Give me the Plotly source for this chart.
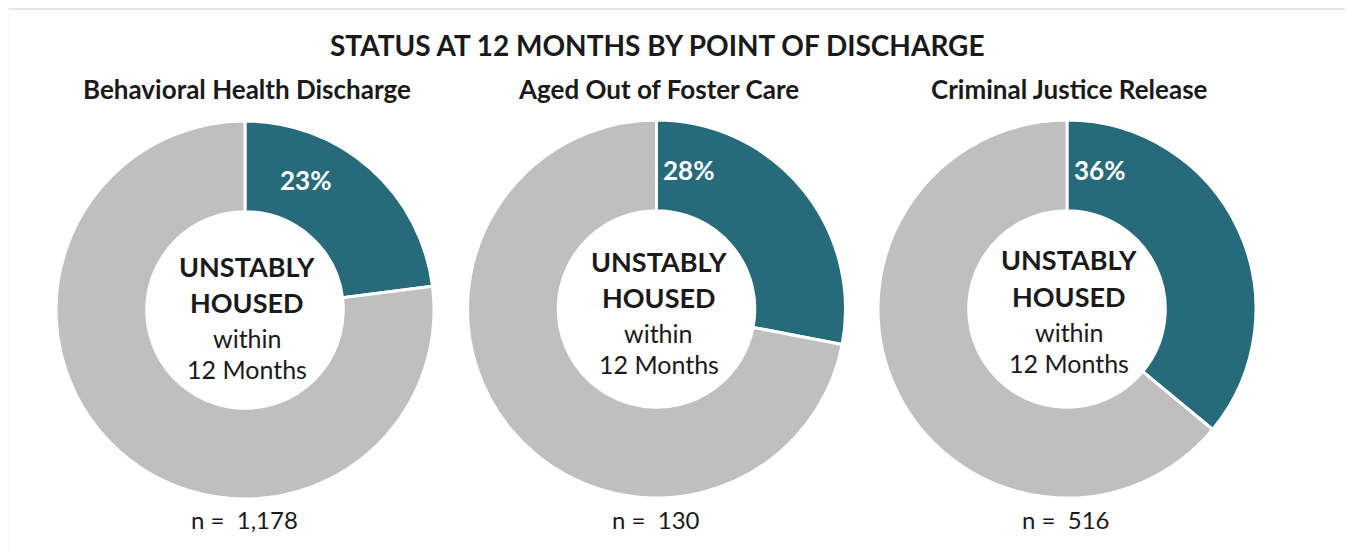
import math
import plotly.graph_objects as go

chart_title = "STATUS AT 12 MONTHS BY POINT OF DISCHARGE"
groups = ["Behavioral Health Discharge", "Aged Out of Foster Care", "Criminal Justice Release"]
segments = ["Unstably housed", "Other"]
unstable_pct = [23, 28, 36]
other_pct = [77, 72, 64]
n_values = ["1,178", "130", "516"]
center_lines = ["UNSTABLY", "HOUSED", "within", "12 Months"]

TEAL = "#276b7a"
GRAY = "#bfbfbf"
FONT = "Lato, Carlito, 'Open Sans', sans-serif"
TXT = "#1a1a1a"

PAGE_W, PAGE_H = 1353, 559
OFF = 8  # default body margin of the html page
W, H = PAGE_W - 2 * OFF, PAGE_H - 2 * OFF


def fx(px):
    return (px - OFF) / W


def fy(py):
    return 1 - (py - OFF) / H


centers_px = [(245, 310), (656.5, 309), (1067, 309)]
r_px = 189
label_angle = [25, 13, 13]
label_r = 143
center_top = [266, 261, 260]

fig = go.Figure()
ann = []
for i, g in enumerate(groups):
    cxp, cyp = centers_px[i]
    fig.add_trace(go.Pie(
        labels=segments,
        values=[unstable_pct[i], other_pct[i]],
        hole=0.52,
        sort=False,
        direction="clockwise",
        rotation=0,
        marker=dict(colors=[TEAL, GRAY], line=dict(color="white", width=3)),
        textinfo="none",
        hoverinfo="label+percent",
        domain=dict(x=[fx(cxp - r_px), fx(cxp + r_px)], y=[fy(cyp + r_px), fy(cyp - r_px)]),
        showlegend=False,
        name=g,
    ))
    a = math.radians(label_angle[i])
    lx = cxp + label_r * math.sin(a)
    ly = cyp - label_r * math.cos(a)
    ann.append(dict(x=fx(lx), y=fy(ly), text=f"<b>{unstable_pct[i]}%</b>",
                    font=dict(family=FONT, size=26, color="white")))
    ann.append(dict(x=fx(cxp + 2), y=fy(89), text=f"<b>{g}</b>",
                    font=dict(family=FONT, size=26, color=TXT)))
    ann.append(dict(x=fx(cxp - 1), y=fy(519), text=f"n =  {n_values[i]}",
                    font=dict(family=FONT, size=24, color=TXT)))
    steps = [0, 36, 72, 103]
    sizes = [27, 27, 25, 25]
    for j, line in enumerate(center_lines):
        txt = f"<b>{line}</b>" if j < 2 else line
        ann.append(dict(x=fx(cxp + 2), y=fy(center_top[i] + steps[j]), text=txt,
                        font=dict(family=FONT, size=sizes[j], color=TXT)))

ann.append(dict(x=fx(657), y=fy(45), text=f"<b>{chart_title}</b>",
                font=dict(family=FONT, size=28, color=TXT)))

for a_ in ann:
    a_.update(xref="paper", yref="paper", showarrow=False, xanchor="center", yanchor="middle")

fig.update_layout(
    width=W, height=H,
    margin=dict(l=0, r=0, t=0, b=0),
    paper_bgcolor="white",
    plot_bgcolor="white",
    annotations=ann,
    shapes=[dict(type="line", xref="paper", yref="paper", x0=fx(5), x1=1, y0=fy(9), y1=fy(9),
                 line=dict(color="#e6e6e6", width=2)),
            dict(type="line", xref="paper", yref="paper", x0=fx(9), x1=fx(9), y0=0, y1=fy(9),
                 line=dict(color="#f2f2f2", width=1))],
)

fig.write_html("out.html")
